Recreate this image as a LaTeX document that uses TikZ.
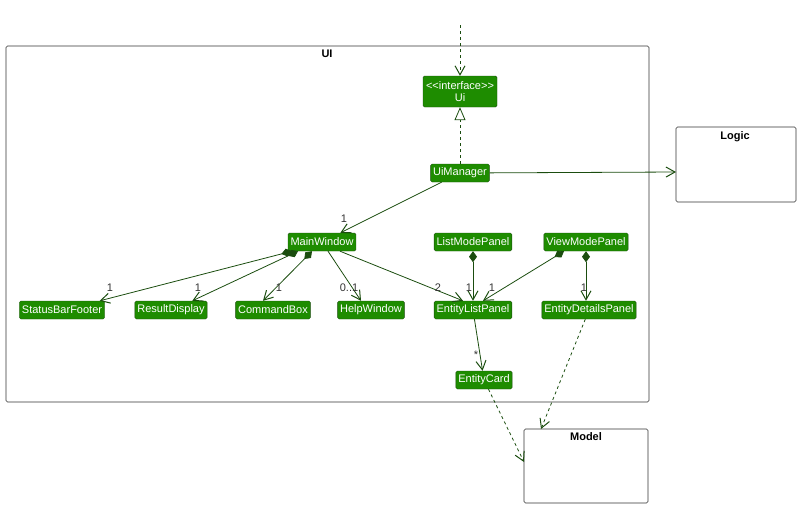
\documentclass[tikz,border=0pt]{standalone}
\usepackage{fontspec}
\setmainfont{Liberation Sans}
\usetikzlibrary{arrows.meta,positioning}
\definecolor{cg}{HTML}{1E8C00}
\definecolor{cb}{HTML}{1B4D0F}
\begin{document}
\begin{tikzpicture}[x=1pt,y=-1pt,
  cls/.style={draw=cb,fill=cg,text=white,rounded corners=1.5pt,inner sep=2.5pt,minimum height=18pt,font=\fontsize{11}{13}\selectfont},
  pkg/.style={draw=black!80,rounded corners=1.5pt,line width=0.6pt},
  ed/.style={draw=cb,line width=0.8pt},
  arr/.style={ed,-{Straight Barb[length=9pt,width=10pt,line width=1pt]}},
  comp/.style={ed,{Diamond[length=11pt,width=8pt]}-{Straight Barb[length=9pt,width=10pt,line width=1pt]}},
  lbl/.style={font=\fontsize{11}{13}\selectfont,text=black!80,inner sep=1pt}]
\useasboundingbox (0,0) rectangle (800,507);
\draw[pkg] (6,46) rectangle (649,402);
\node[font=\bfseries\fontsize{11}{13}\selectfont] (uil) at (327,54) {UI};
\draw[pkg] (676,127) rectangle (796,202);
\node[font=\bfseries\fontsize{11}{13}\selectfont] (logl) at (735,137) {Logic};
\draw[pkg] (524,429) rectangle (648,503);
\node[font=\bfseries\fontsize{11}{13}\selectfont] (modl) at (586,437) {Model};
\coordinate (logic) at (676,172);
\coordinate (modelA) at (524,462);
\coordinate (modelB) at (541,429);
\coordinate (top) at (460,25);
\node[cls,align=center,minimum width=74pt,minimum height=31pt,font=\fontsize{11}{12}\selectfont] (ui) at (460,91.5) {\mbox{<}\mbox{<}interface\mbox{>}\mbox{>}\\Ui};
\node[cls] (uim) at (460,173) {UiManager};
\node[cls] (mw) at (322,242) {MainWindow};
\node[cls] (lmp) at (473,242) {ListModePanel};
\node[cls] (vmp) at (586,242) {ViewModePanel};
\node[cls] (sbf) at (62,310) {StatusBarFooter};
\node[cls] (rd) at (171,310) {ResultDisplay};
\node[cls] (cbx) at (273,310) {CommandBox};
\node[cls] (hw) at (371,310) {HelpWindow};
\node[cls] (elp) at (473,310) {EntityListPanel};
\node[cls] (edp) at (589,310) {EntityDetailsPanel};
\node[cls] (ec) at (484,380) {EntityCard};
\draw[arr,dashed] (top) -- (ui);
\draw[ed,dashed,-{Triangle[open,length=13pt,width=11pt]}] (uim) -- (ui);
\draw[arr] (uim) -- (logic);
\draw[arr] (uim) -- (mw);
\draw[comp] ([xshift=-30pt]mw.south) -- ([xshift=-5pt]sbf.north east);
\draw[comp] ([xshift=-24pt]mw.south) -- ([xshift=-15pt]rd.north east);
\draw[comp] ([xshift=-10pt]mw.south) -- ([xshift=-10pt]cbx.north);
\draw[arr] ([xshift=6pt]mw.south) -- ([xshift=-10pt]hw.north);
\draw[arr] ([xshift=18pt]mw.south) -- ([xshift=-10pt]elp.north);
\draw[comp] (lmp) -- (elp);
\draw[comp] ([xshift=-22pt]vmp.south) -- ([xshift=10pt]elp.north);
\draw[comp] (vmp.south) -- ([xshift=-3pt]edp.north);
\draw[arr] (elp) -- (ec);
\draw[arr,dashed] (ec) -- (modelA);
\draw[arr,dashed] (edp) -- (modelB);
\node[lbl] (l1) at (344,219) {1};
\node[lbl] (l2) at (110,288) {1};
\node[lbl] (l3) at (198,288) {1};
\node[lbl] (l4) at (279,288) {1};
\node[lbl] (l5) at (349,288) {0..1};
\node[lbl] (l6) at (438,288) {2};
\node[lbl] (l7) at (469,288) {1};
\node[lbl] (l8) at (492,288) {1};
\node[lbl] (l9) at (584,288) {1};
\node[lbl] (l10) at (476,355) {*};
\end{tikzpicture}
\end{document}
